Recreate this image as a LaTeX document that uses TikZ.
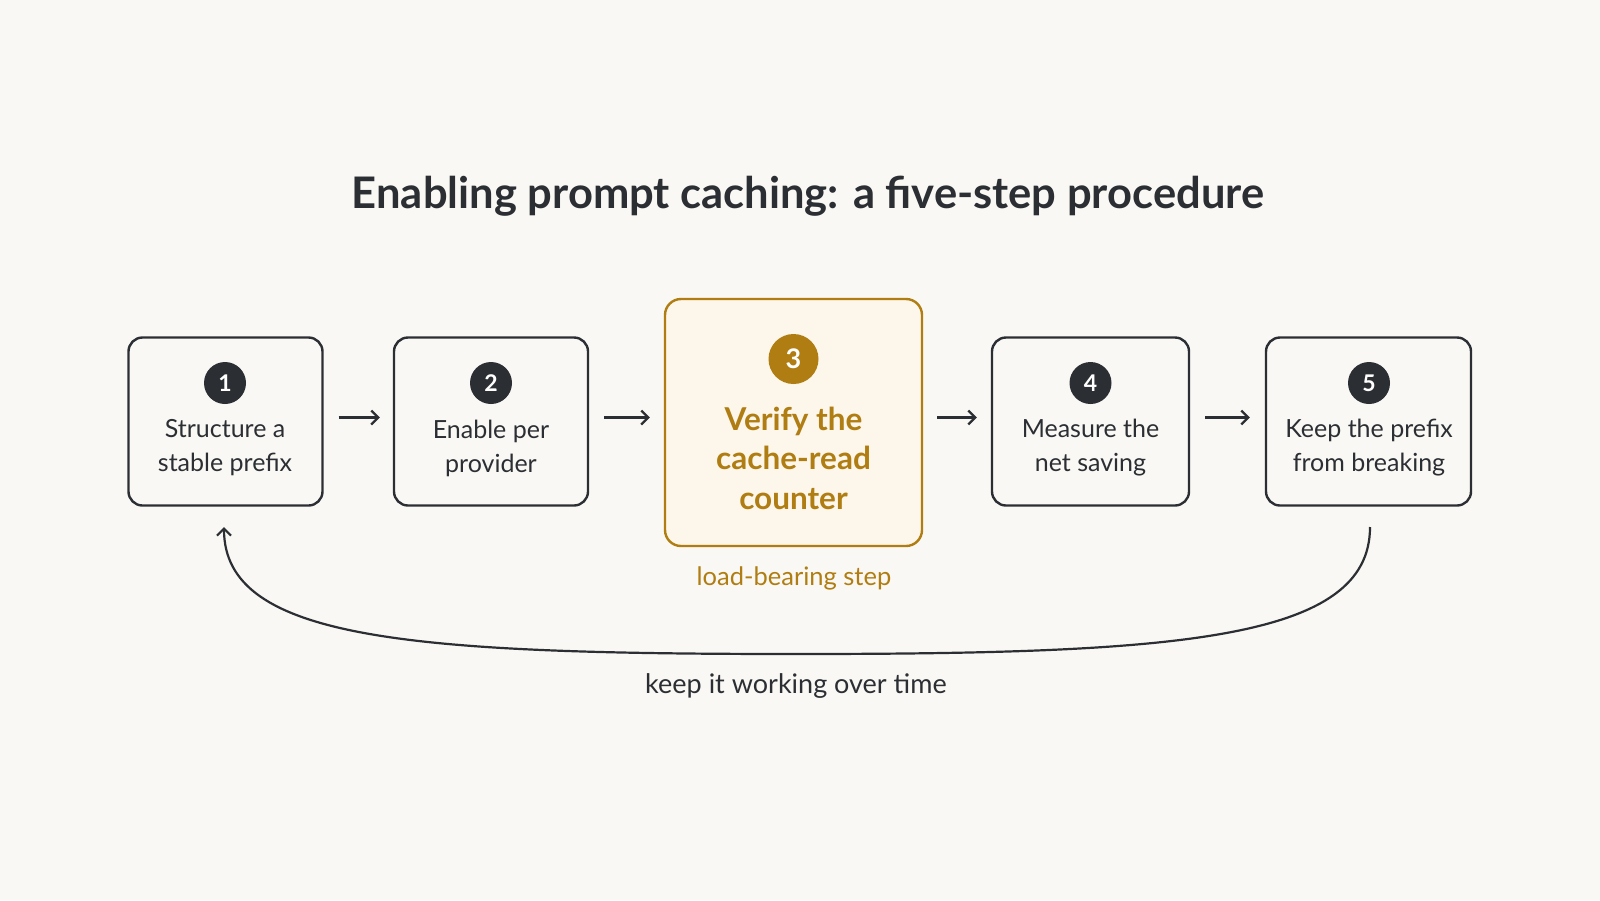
\documentclass[tikz,border=0pt]{standalone}
\usepackage{fontspec}
\setmainfont{Lato}
\usetikzlibrary{arrows.meta}
\definecolor{bgc}{HTML}{FAF8F4}
\definecolor{ink}{HTML}{2B2F33}
\definecolor{gold}{HTML}{B07D12}
\definecolor{goldfill}{HTML}{FCF6EB}
\tikzset{
  stepbox/.style={draw=ink, line width=2.4pt, rounded corners=14pt, fill=bgc, inner sep=0pt},
  keybox/.style={draw=gold, line width=2.4pt, rounded corners=16pt, fill=goldfill, inner sep=0pt},
  numdot/.style={circle, fill=ink, text=white, minimum size=42pt, inner sep=0pt, font=\fontsize{23}{24}\selectfont\bfseries},
  keydot/.style={circle, fill=gold, text=white, minimum size=50pt, inner sep=0pt, font=\fontsize{27}{28}\selectfont\bfseries},
  steptext/.style={text=ink, align=center, font=\fontsize{25}{34}\selectfont},
  keytext/.style={text=gold, align=center, font=\fontsize{31.5}{39.5}\selectfont\bfseries},
  flow/.style={draw=ink, line width=2.2pt, -{Straight Barb[length=7pt,width=14pt,line width=2.2pt]}},
}
\begin{document}
\begin{tikzpicture}[x=1pt,y=-1pt]
\fill[bgc] (0,0) rectangle (1600,900);
\useasboundingbox (0,0) rectangle (1600,900);

\node[text=ink, font=\fontsize{43.5}{48}\selectfont\bfseries] (title) at (808,196) {Enabling prompt caching: a five-step procedure};

\node[stepbox, minimum width=194pt, minimum height=168pt] (b1) at (225.5,421.5) {};
\node[stepbox, minimum width=194pt, minimum height=168pt] (b2) at (491,421.5) {};
\node[keybox, minimum width=257pt, minimum height=247pt] (b3) at (793.5,422.5) {};
\node[stepbox, minimum width=197pt, minimum height=168pt] (b4) at (1090.5,421.5) {};
\node[stepbox, minimum width=205pt, minimum height=168pt] (b5) at (1368.5,421.5) {};

\node[numdot] (n1) at (225,383) {1};
\node[numdot] (n2) at (491,383) {2};
\node[keydot] (n3) at (793.5,359) {3};
\node[numdot] (n4) at (1090.5,383) {4};
\node[numdot] (n5) at (1369,383) {5};

\node[steptext] (t1) at (225,448) {Structure a\\stable prefix};
\node[steptext] (t2) at (491,448) {Enable per\\provider};
\node[keytext] (t3) at (793.5,458) {Verify the\\cache-read\\counter};
\node[steptext] (t4) at (1090.5,448) {Measure the\\net saving};
\node[steptext] (t5) at (1369,448) {Keep the prefix\\from breaking};

\draw[flow, shorten <=15pt, shorten >=13pt] ([yshift=4pt]b1.east) -- ([yshift=4pt]b1.east -| b2.west);
\draw[flow, shorten <=15pt, shorten >=14pt] ([yshift=4pt]b2.east) -- ([yshift=4pt]b2.east -| b3.west);
\draw[flow, shorten <=14pt, shorten >=14pt] ([yshift=4pt]b4.west -| b3.east) -- ([yshift=4pt]b4.west);
\draw[flow, shorten <=15pt, shorten >=15pt] ([yshift=4pt]b4.east) -- ([yshift=4pt]b5.west);

\node[text=gold, font=\fontsize{25.5}{28}\selectfont] (lb) at (794,578) {load-bearing step};

\coordinate (ls) at (1370,527);
\coordinate (lm) at (796,654);
\coordinate (le) at (224,527);
\draw[flow] (ls) .. controls (1370,640) and (1180,654) .. (lm) .. controls (410,654) and (224,640) .. (le);

\node[text=ink, font=\fontsize{27}{30}\selectfont] (loop) at (796,686) {keep it working over time};
\end{tikzpicture}
\end{document}
